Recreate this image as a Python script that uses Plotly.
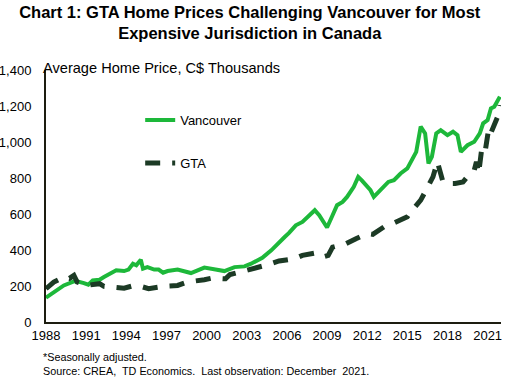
import plotly.graph_objects as go

# ---- Data (C$ thousands) ----
van_dates = ["1988-01", "1988-08", "1989-05", "1990-02", "1990-04", "1990-11", "1991-03",
             "1991-07", "1992-01", "1992-05", "1992-11", "1993-04", "1993-11", "1994-03",
             "1994-07", "1994-10", "1995-02", "1995-04", "1995-08", "1996-02", "1996-06",
             "1996-10", "1997-02", "1997-11", "1998-11", "1999-11", "2000-09", "2001-05",
             "2002-02", "2002-11", "2003-05", "2004-03", "2004-11", "2005-05", "2005-11",
             "2006-03", "2006-09", "2007-03", "2007-08", "2008-02", "2008-06", "2008-11",
             "2009-01", "2009-06", "2009-10", "2010-03", "2010-07", "2011-01", "2011-05",
             "2011-08", "2012-01", "2012-04", "2012-07", "2012-11", "2013-03", "2013-08",
             "2014-01", "2014-07", "2015-01", "2015-06", "2015-09", "2016-01", "2016-05",
             "2016-08", "2016-11", "2017-03", "2017-07", "2018-01", "2018-06", "2018-10",
             "2019-01", "2019-07", "2020-01", "2020-06", "2020-09", "2021-01", "2021-04",
             "2021-07", "2021-12"]
van_values = [135, 166, 203, 225, 227, 216, 207,
              231, 235, 250, 268, 287, 283, 291,
              324, 315, 346, 296, 305, 291, 291,
              274, 283, 291, 272, 302, 292, 283,
              305, 309, 324, 357, 398, 431, 472,
              495, 537, 556, 584, 621, 593, 537,
              525, 593, 649, 667, 695, 751, 806,
              788, 751, 732, 695, 723, 742, 778,
              788, 825, 853, 918, 945, 1085, 1048,
              881, 918, 1048, 1066, 1038, 1057, 1038,
              945, 982, 1001, 1048, 1104, 1122, 1187,
              1196, 1252]

gta_dates = ["1988-01", "1988-08", "1989-05", "1989-10", "1990-02", "1990-05", "1991-01",
             "1992-01", "1992-05", "1993-04", "1993-11", "1994-08", "1995-02", "1995-09",
             "1996-05", "1996-11", "1997-11", "1998-08", "1999-11", "2000-06", "2001-06",
             "2001-10", "2003-01", "2003-10", "2004-11", "2005-06", "2006-08", "2007-03",
             "2008-02", "2008-09", "2009-02", "2009-06", "2010-06", "2011-03", "2012-01",
             "2012-06", "2013-04", "2014-01", "2014-05", "2015-01", "2015-04", "2016-01",
             "2016-05", "2016-12", "2017-04", "2017-07", "2017-09", "2018-02", "2018-08",
             "2019-03", "2019-08", "2020-01", "2020-03", "2020-05", "2020-08", "2020-11",
             "2021-02", "2021-04", "2021-10", "2021-12"]
gta_values = [185, 222, 250, 242, 259, 222, 203,
              213, 198, 194, 188, 203, 198, 185,
              194, 199, 203, 222, 235, 244, 240,
              264, 287, 300, 324, 339, 352, 370,
              383, 361, 370, 416, 435, 463, 491,
              487, 528, 550, 560, 584, 611, 677,
              723, 806, 890, 825, 778, 770, 770,
              778, 816, 843, 890, 825, 975, 955,
              1076, 1050, 1140, 1205]

year_ticks = [str(y) for y in range(1988, 2022, 3)]
y_ticks = [0, 200, 400, 600, 800, 1000, 1200, 1400]

FONT = "Liberation Sans, Arial, sans-serif"
VAN_COLOR = "#1db83a"
GTA_COLOR = "#1c3a25"
AXIS_COLOR = "#1d1d10"
NB = "\u00a0"

fig = go.Figure()
fig.add_trace(go.Scatter(
    x=[d + "-01" for d in van_dates], y=van_values, mode="lines", name="Vancouver",
    legendgroup="v", line=dict(color=VAN_COLOR, width=4)))
fig.add_trace(go.Scatter(
    x=[d + "-01" for d in gta_dates], y=gta_values, mode="lines", name="GTA",
    legendgroup="g", line=dict(color=GTA_COLOR, width=5, dash="15px,12px")))

fig.update_layout(
    width=528, height=384,
    margin=dict(l=46, r=27, t=70, b=62),
    paper_bgcolor="white", plot_bgcolor="white",
    font=dict(family=FONT, size=13, color="#000000"),
    title=dict(
        text="<b>Chart 1: GTA Home Prices Challenging Vancouver for Most<br>"
             "Expensive Jurisdiction in Canada</b>",
        x=0.473, xanchor="center", xref="container",
        y=0.953, yanchor="top", yref="container",
        font=dict(family=FONT, size=16.5, color="#000000")),
    legend=dict(
        x=0.207, y=0.861, xanchor="left", yanchor="top",
        bgcolor="rgba(0,0,0,0)", font=dict(size=13, color="#000000"),
        traceorder="grouped", tracegroupgap=23),
    xaxis=dict(
        type="date", range=["1988-01-01", "2022-01-01"],
        tickvals=[y + "-01-01" for y in year_ticks], ticktext=year_ticks,
        showgrid=False, zeroline=False, showline=True, linecolor=AXIS_COLOR,
        linewidth=2, ticks="", ticklabelstandoff=0, automargin=False,
        tickfont=dict(size=13, color="#000000")),
    yaxis=dict(
        range=[0, 1400], tickvals=y_ticks,
        tickformat=",d", showgrid=False, zeroline=False, showline=True,
        linecolor=AXIS_COLOR, linewidth=2, ticks="", ticklabelstandoff=10,
        automargin=False, tickfont=dict(size=13, color="#000000")),
    annotations=[
        dict(text="Average Home Price, C$ Thousands", xref="paper", yref="paper",
             x=-0.012, y=1.006, xanchor="left", yanchor="middle", showarrow=False,
             font=dict(size=14.6, color="#000000")),
        dict(text="*Seasonally adjusted.<br>"
                  "Source: CREA," + NB + " TD Economics." + NB + " Last observation: December"
                  + NB + " 2021.",
             xref="paper", yref="paper", x=-0.011, y=-0.108, xanchor="left",
             yanchor="top", align="left", showarrow=False,
             font=dict(size=10.8, color="#000000")),
    ],
)

fig.write_html("out.html", config={"displayModeBar": False},
               post_script="document.body.style.margin='0px';")
